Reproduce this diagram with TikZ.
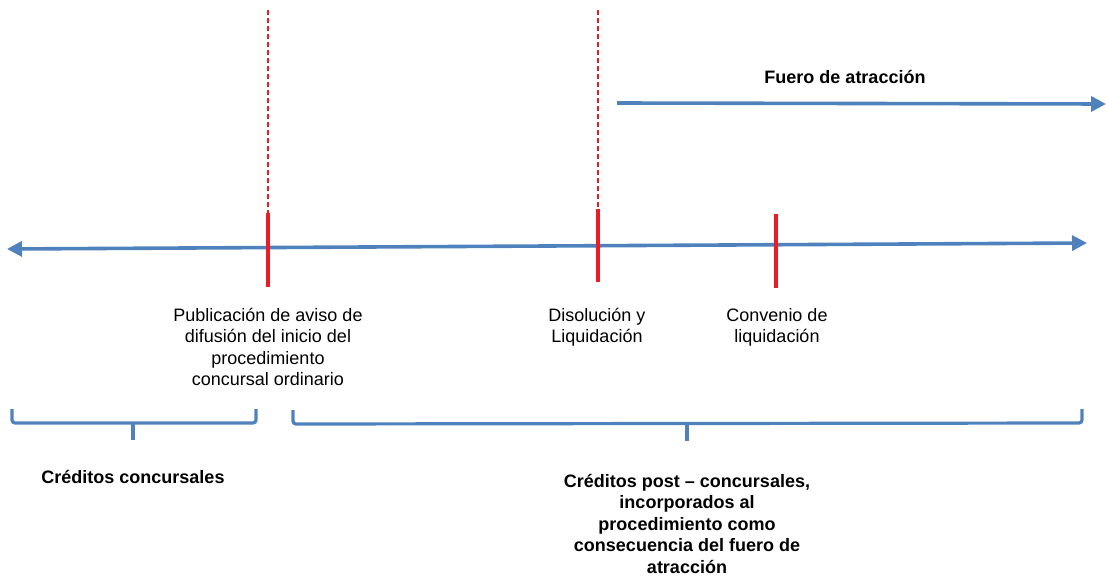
\documentclass[tikz,border=0pt]{standalone}
\usepackage{fontspec}
\setmainfont{Liberation Sans}
\usetikzlibrary{arrows.meta}
\definecolor{lineblue}{RGB}{79,129,189}
\definecolor{tickred}{RGB}{237,28,36}
\begin{document}
\begin{tikzpicture}[x=1pt, y=-1pt,
    axis/.style={draw=lineblue, line width=3.6pt, {Triangle[length=15pt,width=15pt]}-{Triangle[length=15pt,width=15pt]}},
    fwd/.style={draw=lineblue, line width=3.6pt, -{Triangle[length=15pt,width=15pt]}},
    tick/.style={draw=tickred, line width=4pt},
    guide/.style={draw=tickred, line width=1.3pt, dash pattern=on 5pt off 3pt},
    brace/.style={draw=lineblue, line width=3.2pt, rounded corners=3pt},
    label/.style={align=center, font=\fontsize{18}{21.5}\selectfont, inner sep=0pt},
    blabel/.style={label, font=\fontsize{18}{21.5}\selectfont\bfseries}]
    \useasboundingbox (0,0) rectangle (1107,575);
    % timeline
    \coordinate (axL) at (7,249);
    \coordinate (axR) at (1087,243);
    \draw[axis] (axL) -- (axR);
    % fuero de atraccion
    \coordinate (fL) at (617,103);
    \coordinate (fR) at (1106,104);
    \draw[fwd] (fL) -- (fR);
    \node (fuero) [blabel] at (845,77) {Fuero de atracción};
    % ticks
    \coordinate (pubT) at (268,213);
    \coordinate (pubB) at (268,287);
    \coordinate (pubG) at (268,10);
    \coordinate (disT) at (598,209);
    \coordinate (disB) at (598,282);
    \coordinate (disG) at (598,10);
    \coordinate (conT) at (776,214);
    \coordinate (conB) at (776,288);
    \draw[guide] (pubG) -- (pubT);
    \draw[guide] (disG) -- (disT);
    \draw[tick] (pubT) -- (pubB);
    \draw[tick] (disT) -- (disB);
    \draw[tick] (conT) -- (conB);
    % events
    \node (pub) [label, anchor=north] at (268,308) {Publicación de aviso de\\difusión del inicio del\\procedimiento\\concursal ordinario};
    \node (disol) [label, anchor=north] at (597,308) {Disolución y\\Liquidación};
    \node (conv) [label, anchor=north] at (777,308) {Convenio de\\liquidación};
    % braces
    \coordinate (b1L) at (12,409);
    \coordinate (b1R) at (256,409);
    \coordinate (b1M) at (133,423);
    \coordinate (b1T) at (133,440);
    \draw[brace] (b1L) -- (12,423) -- (256,423) -- (b1R);
    \draw[brace] (b1M) -- (b1T);
    \coordinate (b2L) at (293,410);
    \coordinate (b2R) at (1082,409);
    \coordinate (b2M) at (687,424);
    \coordinate (b2T) at (687,441);
    \draw[brace] (b2L) -- (293,424) -- (1082,423) -- (b2R);
    \draw[brace] (b2M) -- (b2T);
    % creditos
    \node (cc) [blabel] at (133,477) {Créditos concursales};
    \node (cpc) [blabel, anchor=north] at (687,474) {Créditos post – concursales,\\incorporados al\\procedimiento como\\consecuencia del fuero de\\atracción};
\end{tikzpicture}
\end{document}
